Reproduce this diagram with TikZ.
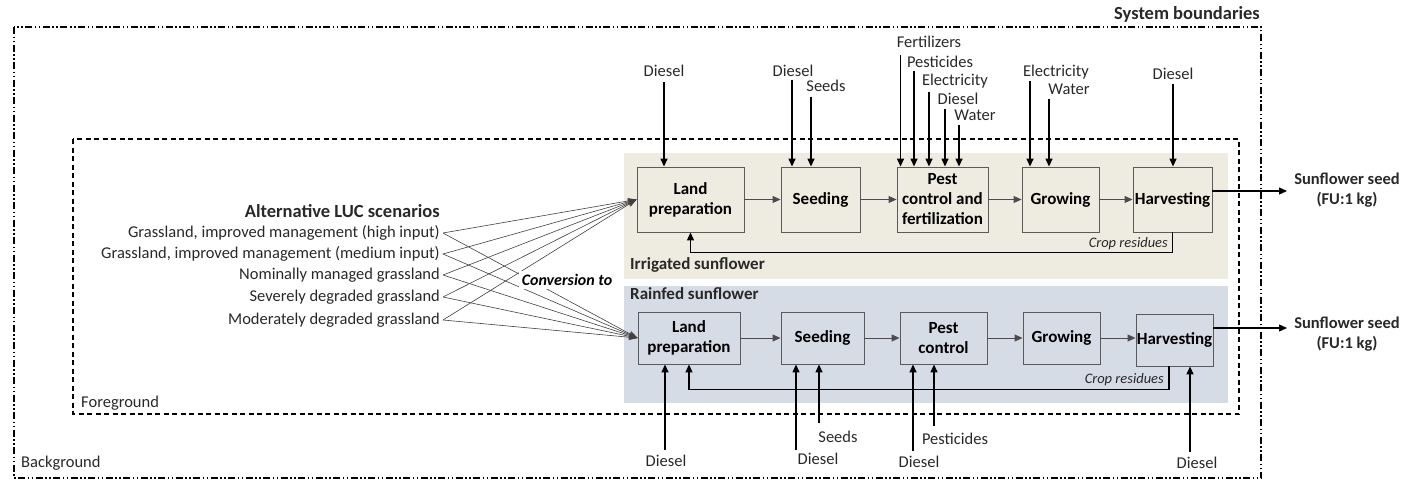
\documentclass[tikz,border=0pt]{standalone}
\usepackage{fontspec}
\setmainfont{Carlito}
\usetikzlibrary{arrows.meta}
\definecolor{irrbg}{RGB}{238,236,225}
\definecolor{rainbg}{RGB}{214,220,229}
\definecolor{boxgray}{RGB}{90,90,90}
\definecolor{inkgray}{RGB}{40,40,40}

\begin{document}
\begin{tikzpicture}[x=1pt,y=-1pt,
  every node/.style={inner sep=0pt,text=inkgray},
  lbl/.style={font=\fontsize{16.5}{20}\selectfont},
  hdr/.style={font=\fontsize{17}{20}\selectfont\bfseries},
  bighdr/.style={font=\fontsize{18.5}{22}\selectfont\bfseries},
  resid/.style={font=\fontsize{14.5}{17}\selectfont\itshape},
  proc/.style={draw=boxgray,line width=0.9pt,align=center,text=black,
    font=\fontsize{17}{20}\selectfont\bfseries},
  flow/.style={draw=black!70,line width=0.9pt,-{Triangle[length=8pt,width=7pt]}},
  resline/.style={draw=black,line width=1.2pt,-{Triangle[length=8pt,width=7pt]}},
  feed/.style={draw=black,line width=1.4pt,-{Triangle[length=8pt,width=7pt]}},
  luc/.style={draw=black!75,line width=0.6pt,-{Stealth[length=9pt,width=6pt]}}]
  \useasboundingbox (0,0) rectangle (1402,479);
  % panels
  \fill[irrbg] (624,153) rectangle (1228,279);
  \fill[rainbg] (624,286) rectangle (1228,403);
  % boundaries
  \draw[line width=1.2pt,dash pattern=on 7pt off 2.5pt on 1.5pt off 2.5pt on 1.5pt off 2.5pt]
    (14,27) rectangle (1261,478);
  \draw[line width=1.2pt,dash pattern=on 5pt off 3.5pt] (73,139) rectangle (1239,414);
  \node[bighdr,anchor=east] (sysb) at (1260,14) {System boundaries};
  \node[lbl,anchor=west] (fgnd) at (81,403) {Foreground};
  \node[lbl,anchor=west] (bgnd) at (21,463) {Background};
  \node[hdr,anchor=west] (irrT) at (630,265) {Irrigated sunflower};
  \node[hdr,anchor=west] (rainT) at (630,294) {Rainfed sunflower};

  % irrigated chain
  \node[proc,minimum width=107pt,minimum height=65pt] (lpI) at (690.5,199.5) {Land\\preparation};
  \node[proc,minimum width=79pt,minimum height=65pt] (sdI) at (820.5,199.5) {Seeding};
  \node[proc,minimum width=91pt,minimum height=65pt] (pcI) at (942.5,199.5) {Pest\\control and\\fertilization};
  \node[proc,minimum width=77pt,minimum height=65pt] (grI) at (1060.5,199.5) {Growing};
  \node[proc,minimum width=79pt,minimum height=65pt] (hvI) at (1172.5,199.5) {Harvesting};
  % rainfed chain
  \node[proc,minimum width=102pt,minimum height=52pt] (lpR) at (689,338) {Land\\preparation};
  \node[proc,minimum width=83pt,minimum height=52pt] (sdR) at (822.5,338) {Seeding};
  \node[proc,minimum width=87pt,minimum height=52pt] (pcR) at (943.5,338) {Pest\\control};
  \node[proc,minimum width=77pt,minimum height=52pt] (grR) at (1061.5,338) {Growing};
  \node[proc,minimum width=77pt,minimum height=52pt] (hvR) at (1174.5,340) {Harvesting};

  \draw[flow] (lpI) -- (sdI);
  \draw[flow] (sdI) -- (pcI);
  \draw[flow] (pcI) -- (grI);
  \draw[flow] (grI) -- (hvI);
  \draw[flow] (lpR) -- (sdR);
  \draw[flow] (sdR) -- (pcR);
  \draw[flow] (pcR) -- (grR);
  \draw[flow] (grR.east) -- (grR.east -| hvR.west);

  % crop residues back to land preparation
  \draw[resline] (hvI.south) -- ++(0,20) -| (lpI.south);
  \node[resid,anchor=east] (resI) at (1168,244) {Crop residues};
  \draw[resline] ([xshift=-5.5pt]hvR.south) -- ++(0,23) -| (lpR.south);
  \node[resid,anchor=east] (resR) at (1164,380) {Crop residues};

  % products
  \coordinate (outI) at (1287,191);
  \coordinate (outR) at (1287,328);
  \draw[feed,line width=1.2pt] (hvI.east |- outI) -- (outI);
  \draw[feed,line width=1.2pt] (hvR.east |- outR) -- (outR);
  \node[hdr,font=\fontsize{16.5}{20}\selectfont\bfseries,align=center] (seedI) at (1347,190) {Sunflower seed\\(FU:1 kg)};
  \node[hdr,font=\fontsize{16.5}{20}\selectfont\bfseries,align=center] (seedR) at (1347,334.5) {Sunflower seed\\(FU:1 kg)};

  % inputs from above (irrigated)
  \foreach \ax/\ay/\bx/\lx/\ly/\txt [count=\i] in {
      664/82/lpI/664/71/Diesel, 792/80/sdI/793/71/Diesel, 811/97/sdI/826/86/Seeds,
      900.5/55/pcI/929/42/Fertilizers, 914/71/pcI/940/62/Pesticides,
      929/92/pcI/955/81/Electricity, 945/109/pcI/958/99/Diesel, 959/125/pcI/975/115/Water,
      1030/81/grI/1056/72/Electricity, 1049/99/grI/1069/89/Water, 1173/84/hvI/1173/74/Diesel} {
    \node[lbl] (topLbl\i) at (\lx,\ly) {\txt};
    \coordinate (topIn\i) at (\ax,\ay);
    \draw[feed] (topIn\i) -- (topIn\i |- \bx.north);
  }
  % inputs from below (rainfed)
  \foreach \ax/\ay/\bx/\lx/\ly/\txt [count=\i] in {
      665/450/lpR/666/461/Diesel, 796/450/sdR/818/459/Diesel, 819/423/sdR/838/437/Seeds,
      913/451/pcR/919/462/Diesel, 934/426/pcR/955/439/Pesticides, 1190/452/hvR/1197/463/Diesel} {
    \node[lbl] (botLbl\i) at (\lx,\ly) {\txt};
    \coordinate (botIn\i) at (\ax,\ay);
    \draw[feed] (botIn\i) -- (botIn\i |- \bx.south);
  }

  % land use change scenarios
  \node[bighdr,anchor=east] (lucT) at (440,211) {Alternative LUC scenarios};
  \node[lbl,anchor=east] (sc1) at (440,233) {Grassland, improved management (high input)};
  \node[lbl,anchor=east] (sc2) at (440,254) {Grassland, improved management (medium input)};
  \node[lbl,anchor=east] (sc3) at (440,275) {Nominally managed grassland};
  \node[lbl,anchor=east] (sc4) at (440,297) {Severely degraded grassland};
  \node[lbl,anchor=east] (sc5) at (440,320) {Moderately degraded grassland};
  \foreach \s in {1,...,5} {
    \draw[luc] ([xshift=3pt]sc\s.east) -- (lpI.west);
    \draw[luc] ([xshift=3pt]sc\s.east) -- (lpR.west);
  }
  \node[font=\fontsize{16}{20}\selectfont\bfseries\itshape,fill=white,inner sep=3pt,text=black]
    (conv) at (567,280) {Conversion to};
\end{tikzpicture}
\end{document}
